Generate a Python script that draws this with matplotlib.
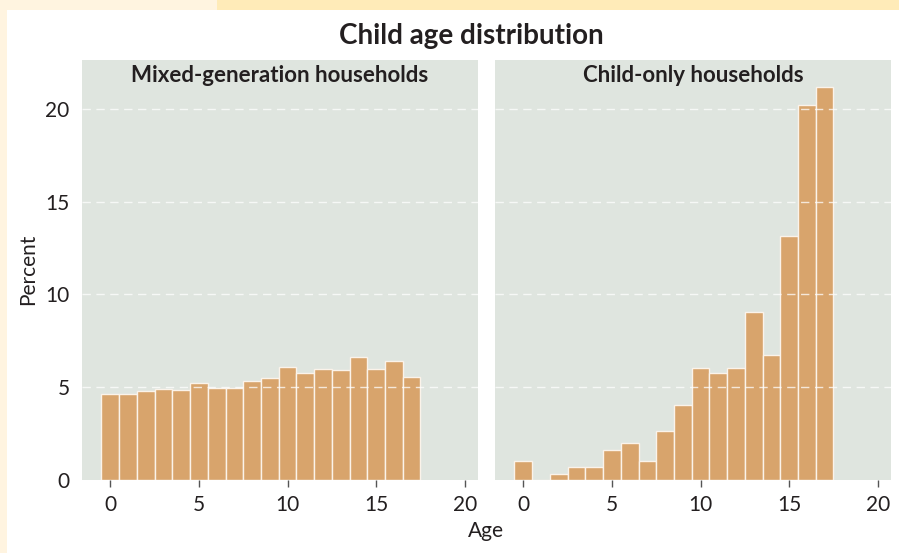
import numpy as np
import matplotlib
matplotlib.use("Agg")
from matplotlib import pyplot as plt
from matplotlib.patches import Rectangle

plt.rcParams['font.family'] = ['Lato', 'DejaVu Sans']

# data: percent of children by single year of age
ages = np.arange(0, 18)
mixed_pct = [4.6, 4.6, 4.8, 4.9, 4.85, 5.2, 4.95, 4.95, 5.3, 5.5,
             6.1, 5.75, 5.95, 5.9, 6.6, 5.95, 6.4, 5.55]
child_only_pct = [1.0, 0.0, 0.3, 0.65, 0.65, 1.6, 1.95, 1.0, 2.6, 4.05,
                  6.0, 5.75, 6.0, 9.05, 6.7, 13.15, 20.25, 21.2]
panel_titles = ["Mixed-generation households", "Child-only households"]
x_ticks = [0, 5, 10, 15, 20]
y_ticks = [0, 5, 10, 15, 20]

bar_color = '#D8A46C'
panel_bg = '#DFE5DF'
text_color = '#231F20'

fig = plt.figure(figsize=(8.99, 5.53), dpi=100)
fig.patch.set_facecolor('white')

# decorative page strips
fig.patches.append(Rectangle((0, 1 - 10/553), 217/899, 10/553, transform=fig.transFigure,
                             facecolor='#FFF4E0', edgecolor='none', zorder=0))
fig.patches.append(Rectangle((217/899, 1 - 10/553), 1, 10/553, transform=fig.transFigure,
                             facecolor='#FFEBB8', edgecolor='none', zorder=0))
fig.patches.append(Rectangle((0, 0), 7/899, 1, transform=fig.transFigure,
                             facecolor='#FFF4E0', edgecolor='none', zorder=0))

ax_l = fig.add_axes([82/899, 73.5/553, 396/899, 419.5/553])
ax_r = fig.add_axes([495/899, 73.5/553, 396/899, 419.5/553])

for ax, vals, title in [(ax_l, mixed_pct, panel_titles[0]),
                        (ax_r, child_only_pct, panel_titles[1])]:
    ax.set_facecolor(panel_bg)
    ax.bar(ages, vals, width=1.0, color=bar_color, edgecolor='#FBF3EA',
           linewidth=1.0, zorder=2)
    for yv in y_ticks[1:]:
        ax.axhline(yv, color='white', linestyle=(0, (6, 4)), linewidth=1.0,
                   alpha=0.75, zorder=3)
    ax.set_xlim(-1.6, 20.75)
    ax.set_ylim(0, 22.66)
    ax.set_xticks(x_ticks)
    ax.set_yticks(y_ticks)
    for s in ax.spines.values():
        s.set_visible(False)
    ax.tick_params(axis='x', length=5, width=1, color='#555555', pad=6,
                   labelsize=15, labelcolor=text_color)
    ax.tick_params(axis='y', length=0, pad=9, labelsize=15, labelcolor=text_color)
    ax.text(0.5, 0.962, title, transform=ax.transAxes, ha='center', va='center',
            fontsize=16, fontweight='bold', color=text_color)

ax_r.tick_params(axis='y', labelleft=False)
ax_l.set_ylabel('Percent', fontsize=15, color=text_color, labelpad=5)

fig.text(471/899, 1 - 36/553, 'Child age distribution', ha='center', va='center',
         fontsize=20, fontweight='bold', color=text_color)
fig.text(486/899, 1 - 531/553, 'Age', ha='center', va='center',
         fontsize=15, color=text_color)

fig.savefig('out.png', dpi=100)
